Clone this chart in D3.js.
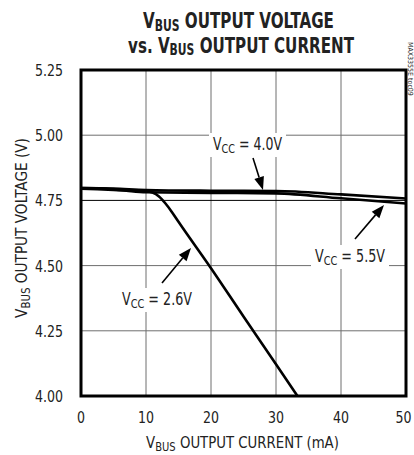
<!DOCTYPE html>
<html><head><meta charset="utf-8">
<script src="https://cdn.jsdelivr.net/npm/d3@7"></script>
<style>
html,body{margin:0;padding:0;background:#fff;}
svg{display:block;}
text{font-family:"Liberation Sans Narrow","DejaVu Sans Condensed","Roboto",sans-serif;fill:#222;}
</style></head>
<body>
<svg id="c" width="414" height="455"></svg>
<script>
// ---- data ----
const xTicks = [0, 10, 20, 30, 40, 50];
const yTicks = [4.00, 4.25, 4.50, 4.75, 5.00, 5.25];
const yTickLabels = ["4.00", "4.25", "4.50", "4.75", "5.00", "5.25"];
const curve26I = [0, 5, 10, 11, 12, 13, 14, 15, 20, 25, 30, 33.3];
const curve26V = [4.795, 4.79, 4.785, 4.78, 4.765, 4.738, 4.705, 4.668, 4.49, 4.305, 4.122, 4.00];
const curve40I = [0, 5, 10, 20, 30, 40, 50];
const curve40V = [4.797, 4.795, 4.79, 4.787, 4.786, 4.773, 4.757];
const curve55I = [0, 4, 7, 10, 20, 30, 40, 50];
const curve55V = [4.797, 4.795, 4.787, 4.781, 4.779, 4.777, 4.758, 4.738];
const seriesNames = ["2.6V", "4.0V", "5.5V"];

const svg = d3.select("#c");
const x = d3.scaleLinear().domain([0, 50]).range([81, 406]);
const y = d3.scaleLinear().domain([4.0, 5.25]).range([396, 70]);

// gridlines
const g = svg.append("g");
g.selectAll("line.v").data(xTicks.slice(1, -1)).join("line")
  .attr("x1", d => x(d)).attr("x2", d => x(d)).attr("y1", y(5.25)).attr("y2", y(4.0))
  .attr("stroke", "#6e6e6e").attr("stroke-width", 1);
g.selectAll("line.h").data(yTicks.slice(1, -1)).join("line")
  .attr("x1", x(0)).attr("x2", x(50)).attr("y1", d => y(d)).attr("y2", d => y(d))
  .attr("stroke", d => d === 4.75 ? "#000" : "#6e6e6e").attr("stroke-width", 1);

// curves
const line = d3.line().x(d => x(d[0])).y(d => y(d[1])).curve(d3.curveMonotoneX);
const zip = (a, b) => a.map((v, i) => [v, b[i]]);
[[curve40I, curve40V], [curve55I, curve55V], [curve26I, curve26V]].forEach(([I, V]) => {
  svg.append("path").datum(zip(I, V)).attr("d", line)
    .attr("fill", "none").attr("stroke", "#000").attr("stroke-width", 2.6)
    .attr("stroke-linejoin", "round");
});

// fitted text: parts = [[text, sub?]], scaled horizontally to targetW
function fitText(cx, cy, rot, targetW, size, subSize, parts, weight, fill, subShift) {
  const grp = svg.append("g");
  const t = grp.append("text").attr("text-anchor", "middle").attr("font-size", size);
  if (weight) t.attr("font-weight", weight);
  if (fill) t.attr("fill", fill);
  const sh = subShift != null ? subShift : size * 0.18;
  let inSub = false;
  parts.forEach(([s, sub]) => {
    const ts = t.append("tspan").text(s);
    if (sub && !inSub) { ts.attr("font-size", subSize).attr("dy", sh); inSub = true; }
    else if (!sub && inSub) { ts.attr("dy", -sh); inSub = false; }
  });
  const w = t.node().getComputedTextLength();
  const s = targetW / w;
  grp.attr("transform", `translate(${cx},${cy}) rotate(${rot}) scale(${s},1)`);
  return grp;
}

function arrow(x1, y1, x2, y2) {
  const ang = Math.atan2(y2 - y1, x2 - x1);
  const L = 13, W = 5;
  const bx = x2 - L * Math.cos(ang), by = y2 - L * Math.sin(ang);
  svg.append("line").attr("x1", x1).attr("y1", y1).attr("x2", bx).attr("y2", by)
    .attr("stroke", "#000").attr("stroke-width", 1.6);
  const px = -Math.sin(ang) * W, py = Math.cos(ang) * W;
  svg.append("path").attr("d", `M${x2},${y2}L${bx + px},${by + py}L${bx - px},${by - py}Z`).attr("fill", "#000");
}
function vccLabel(cx, base, val, w) {
  svg.append("rect").attr("x", cx - w / 2 - 4).attr("y", base - 17).attr("width", w + 8).attr("height", 24).attr("fill", "#fff");
  fitText(cx, base, 0, w, 17, 13, [["V"], ["CC", true], [" = " + val]]);
}
vccLabel(247.5, 150, "4.0V", 69);
arrow(253, 158, 263, 190);
vccLabel(350, 262, "5.5V", 70);
arrow(355, 239, 384, 205);
vccLabel(157, 305, "2.6V", 70);
arrow(162, 283, 191, 248);

// frame
svg.append("rect").attr("x", x(0)).attr("y", y(5.25)).attr("width", x(50) - x(0)).attr("height", y(4.0) - y(5.25))
  .attr("fill", "none").attr("stroke", "#000").attr("stroke-width", 3);

// tick labels
xTicks.forEach(d => fitText(Math.min(x(d), 403.5), 423, 0, d === 0 ? 8 : 16, 16, 12, [[String(d)]]));
yTicks.forEach((d, i) => fitText(49, y(d) + 6, 0, 28, 16, 12, [[yTickLabels[i]]]));

// axis titles
fitText(242.5, 448, 0, 193, 16, 12, [["V"], ["BUS", true], [" OUTPUT CURRENT (mA)"]]);
fitText(27, 228, -90, 180, 16, 12, [["V"], ["BUS", true], [" OUTPUT VOLTAGE (V)"]]);

// title
fitText(238.5, 28, 0, 191, 21, 15, [["V"], ["BUS", true], [" OUTPUT VOLTAGE"]], "bold", "#000", 2.5);
fitText(241, 52.5, 0, 226, 21, 15, [["vs. V"], ["BUS", true], [" OUTPUT CURRENT"]], "bold", "#000", 2.5);

// side code
svg.append("text").attr("transform", "translate(408,42) rotate(90)").attr("font-size", 7).attr("fill", "#555").text("MAX3355E toc09");
</script>
</body></html>
